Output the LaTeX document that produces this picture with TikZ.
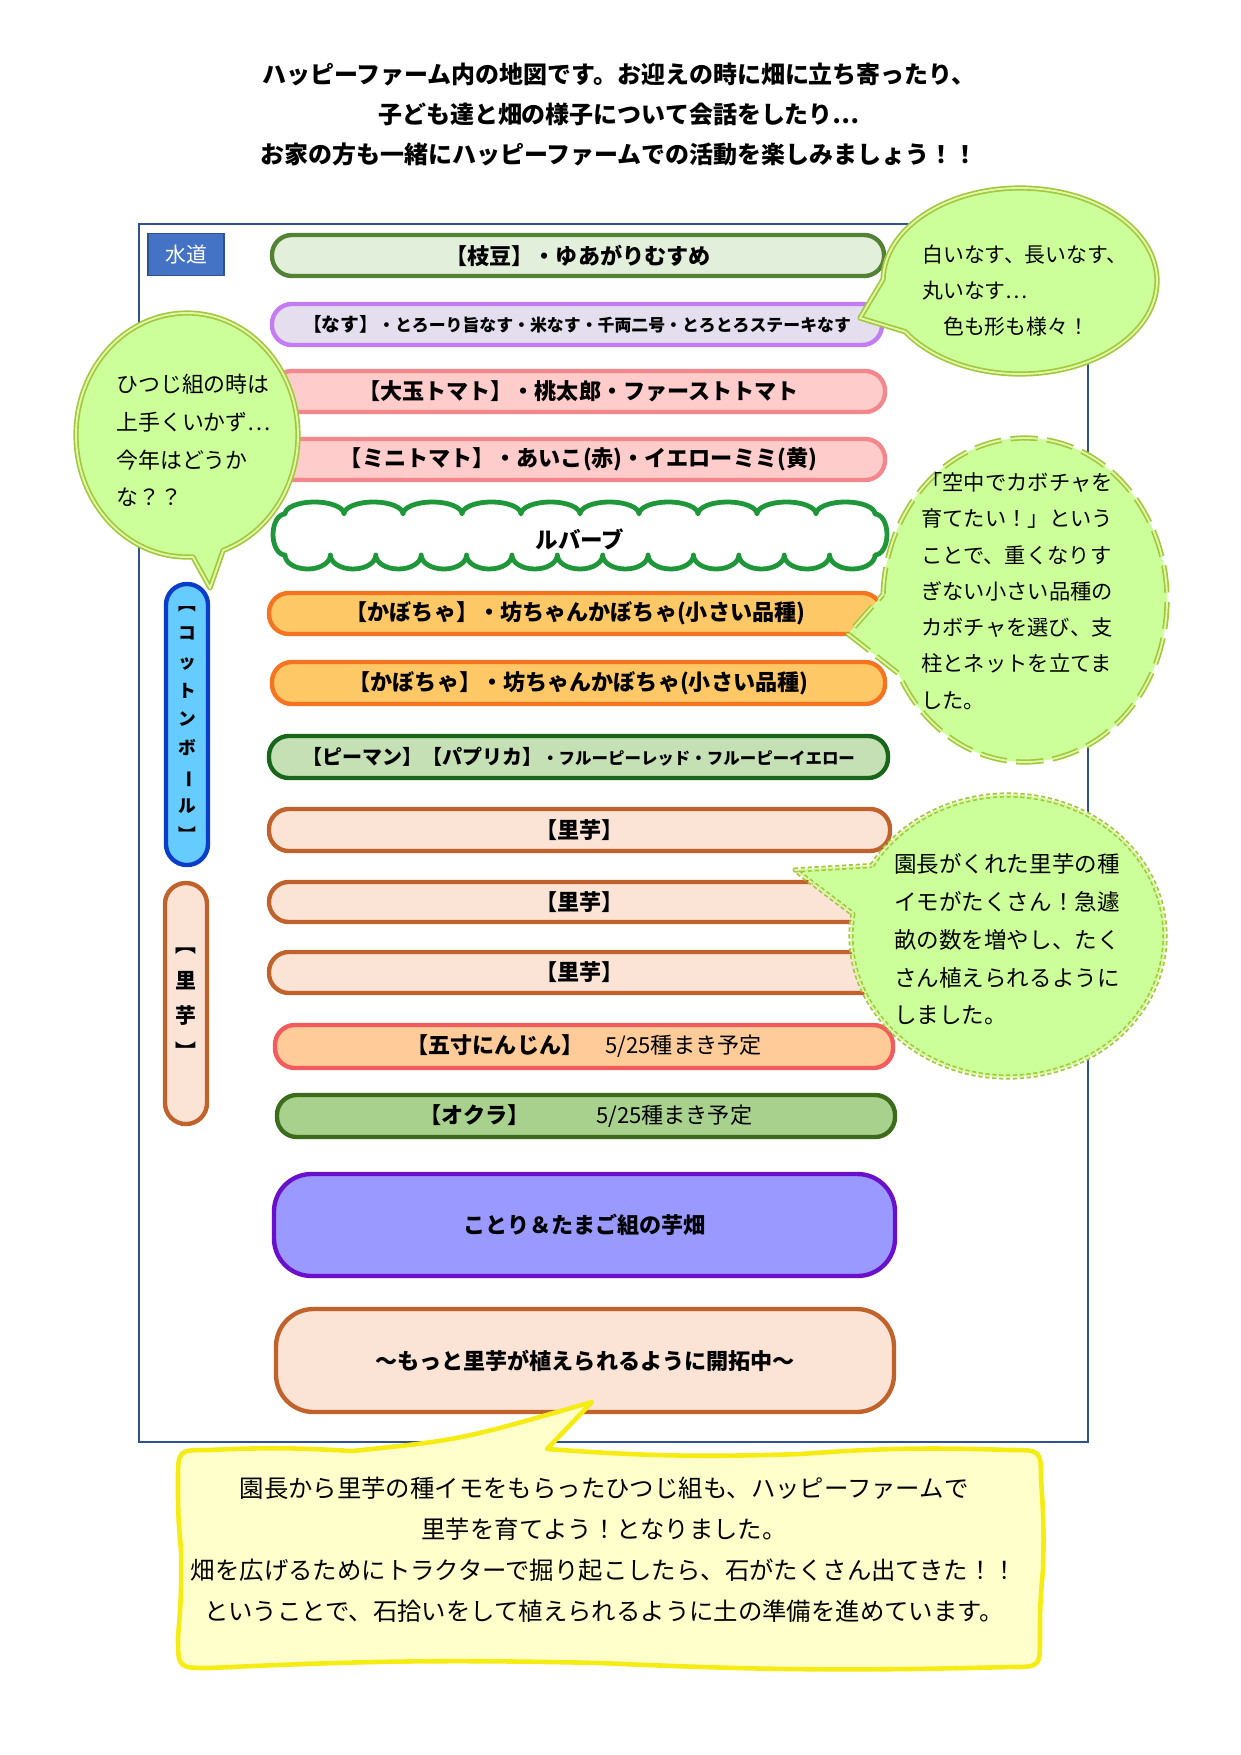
\documentclass[tikz,border=0pt]{standalone}
\usepackage{fontspec}
\setmainfont{Noto Sans CJK JP}
\usepackage{graphicx}
\definecolor{frameblue}{HTML}{2F528F}
\definecolor{suidofill}{HTML}{4472C4}
\definecolor{edaline}{HTML}{548235}\definecolor{edafill}{HTML}{E2EFDA}
\definecolor{nasuline}{HTML}{C47CF2}\definecolor{nasufill}{HTML}{E4DEEE}
\definecolor{tomline}{HTML}{F4878B}\definecolor{tomfill}{HTML}{FFCCCC}
\definecolor{kaboline}{HTML}{F57421}\definecolor{kabofill}{HTML}{FFC866}
\definecolor{pimline}{HTML}{17661A}\definecolor{pimfill}{HTML}{C5E0B4}
\definecolor{satoline}{HTML}{C0622B}\definecolor{satofill}{HTML}{FBE4D6}
\definecolor{ninline}{HTML}{F25C5C}\definecolor{ninfill}{HTML}{FFCC99}
\definecolor{okuline}{HTML}{3B6C1C}\definecolor{okufill}{HTML}{A9D18E}
\definecolor{kotline}{HTML}{6A10CC}\definecolor{kotfill}{HTML}{9999FF}
\definecolor{cotline}{HTML}{0B3DCB}\definecolor{cotfill}{HTML}{66CCFF}
\definecolor{cloudgreen}{HTML}{1F963A}
\definecolor{bubfill}{HTML}{CCFF99}\definecolor{bubline}{HTML}{9FC93C}\definecolor{bubinner}{HTML}{E4F5A8}
\definecolor{yelfill}{HTML}{FFFFCC}\definecolor{yelline}{HTML}{F5EC14}
\newcommand\farmrow[8]{%
  \node[rowbox, draw=#6, fill=#7, minimum width={(#4-#2-4)*0.4797pt}, minimum height={(#5-#3-4)*0.4797pt}] (#1) at ({(#2+#4)/2},{(#3+#5)/2}) {#8};}
\tikzset{
  rowbox/.style={rectangle, rounded corners=9.5pt, line width=2.1pt, inner sep=0pt, font=\bfseries\fontsize{10.6}{12}\selectfont},
  bigbox/.style={rowbox, rounded corners=18pt},
  pill/.style={rectangle, rounded corners=10pt, line width=2.1pt, inner sep=0pt},
  vtext/.style={align=center, inner sep=0pt},
  bubble/.style={fill=bubfill, draw=bubline, line width=0.8pt, double=bubinner, double distance=0.9pt, line join=round},
  dashbubble/.style={bubble, dash pattern=on 13pt off 4.5pt},
  dotbubble/.style={bubble, dash pattern=on 2pt off 1.3pt},
  saytext/.style={align=left, inner sep=0pt, anchor=west},
  cloudstroke/.style={draw=cloudgreen, fill=white, line width=2.3pt, line join=round},
  yelbubble/.style={fill=yelfill, draw=yelline, line width=2.2pt, line join=round}
}
\begin{document}
\begin{tikzpicture}[x=0.4797pt,y=-0.4797pt]
\useasboundingbox (0,0) rectangle (1241,1755);
\fill[white] (0,0) rectangle (1241,1755);

% title
\node[align=center, inner sep=0pt, font=\bfseries\fontsize{11.5}{19}\selectfont] (title) at (619,114.5)
 {ハッピーファーム内の地図です。お迎えの時に畑に立ち寄ったり、\\子ども達と畑の様子について会話をしたり…\\お家の方も一緒にハッピーファームでの活動を楽しみましょう！！};

% frame
\draw[frameblue, line width=0.8pt] (139,224) rectangle (1088,1442);

% water
\node[rectangle, draw=frameblue, fill=suidofill, line width=0.6pt, minimum width={76*0.4797pt}, minimum height={42*0.4797pt}, text=white, font=\fontsize{10}{12}\selectfont] (suido) at (186,254.5) {水道};

% rows
\farmrow{eda}{270}{233}{886}{278}{edaline}{edafill}{【枝豆】・ゆあがりむすめ}
\farmrow{nasu}{270}{302}{884}{347}{nasuline}{nasufill}{{\fontsize{9}{11}\selectfont【なす】}{\fontsize{8.1}{10}\selectfont・とろーり旨なす・米なす・千両二号・とろとろステーキなす}}
\farmrow{tomato}{270}{369}{887}{414}{tomline}{tomfill}{【大玉トマト】・桃太郎・ファーストトマト}
\farmrow{mini}{270}{437}{887}{482}{tomline}{tomfill}{【ミニトマト】・あいこ(赤)・イエローミミ(黄)}
\farmrow{kabo1}{267}{591}{884}{636}{kaboline}{kabofill}{【かぼちゃ】・坊ちゃんかぼちゃ(小さい品種)}
\farmrow{kabo2}{270}{660}{887}{706}{kaboline}{kabofill}{【かぼちゃ】・坊ちゃんかぼちゃ(小さい品種)}
\farmrow{piman}{267}{734}{890}{780}{pimline}{pimfill}{{\fontsize{9.6}{11}\selectfont【ピーマン】【パプリカ】}{\fontsize{7.9}{10}\selectfont・フルーピーレッド・フルーピーイエロー}}
\farmrow{sato1}{267}{807}{892}{853}{satoline}{satofill}{【里芋】}
\farmrow{sato2}{267}{880}{892}{924}{satoline}{satofill}{【里芋】}
\farmrow{sato3}{267}{950}{892}{995}{satoline}{satofill}{【里芋】}
\farmrow{ninjin}{273}{1023}{895}{1070}{ninline}{ninfill}{【五寸にんじん】\mdseries　5/25種まき予定}
\farmrow{okura}{275}{1093}{897}{1139}{okuline}{okufill}{【オクラ】\mdseries　　　5/25種まき予定}
\node[bigbox, draw=kotline, fill=kotfill, minimum width={621*0.4797pt}, minimum height={102*0.4797pt}] (kotori) at (584.5,1225) {ことり＆たまご組の芋畑};
\node[bigbox, draw=satoline, fill=satofill, minimum width={618*0.4797pt}, minimum height={103*0.4797pt}] (kaitaku) at (585,1360.5) {～もっと里芋が植えられるように開拓中～};

% rhubarb cloud
\draw[cloudstroke] (285,555) arc[start angle=90,end angle=270,x radius=12,y radius=20.5]
  \foreach \i in {1,...,10}{ arc[start angle=180,end angle=360,x radius=29.5,y radius=12] }
  arc[start angle=270,end angle=450,x radius=12,y radius=20.5]
  \foreach \i in {1,...,13}{ arc[start angle=0,end angle=180,x radius=22.692,y radius=14] } -- cycle;
\node[font=\bfseries\fontsize{10.8}{12}\selectfont, inner sep=0pt] (rhubarb) at (580,539) {ルバーブ};

% left pills
\node[pill, draw=cotline, fill=cotfill, minimum width={42*0.4797pt}, minimum height={281*0.4797pt}] (cotton) at (187,724.5) {};
\node[vtext, font=\bfseries\fontsize{8.5}{13.9}\selectfont] (cottontext) at (187,724) {︻\\コ\\ッ\\ト\\ン\\ボ\\\rotatebox[origin=c]{-90}{ー}\\ル\\︼};
\node[pill, draw=satoline, fill=satofill, minimum width={42*0.4797pt}, minimum height={241*0.4797pt}] (satopill) at (186,1003.5) {};
\node[vtext, font=\bfseries\fontsize{10}{17.1}\selectfont] (satopilltext) at (186,1003.5) {︻\\里\\芋\\︼};

% bubble: hitsuji
\draw[bubble] (187,435) ++(87:111 and 122) arc[start angle=87,end angle=431,x radius=111,y radius=122] -- (210,588) -- cycle;
\node[saytext, font=\fontsize{10.5}{18.1}\selectfont] (hitsuji) at (116,440.5) {ひつじ組の時は\\上手くいかず…\\今年はどうか\\な？？};

% bubble: nasu
\draw[bubble] (1020,281) ++(181:137 and 93) arc[start angle=181,end angle=507,x radius=137,y radius=93] -- (860,318) -- cycle;
\node[saytext, font=\fontsize{10}{17.3}\selectfont] (nasusay) at (922,291) {白いなす、長いなす、\\丸いなす…\\　色も形も様々！};

% bubble: kabocha (dashed)
\draw[dashbubble] (1025,600) ++(182:142 and 162) arc[start angle=182,end angle=513,x radius=142,y radius=162] -- (848,634) -- cycle;
\node[saytext, font=\fontsize{10.2}{17.4}\selectfont] (kabosay) at (921,591) {「空中でカボチャを\\育てたい！」という\\ことで、重くなりす\\ぎない小さい品種の\\カボチャを選び、支\\柱とネットを立てま\\した。};

% bubble: satoimo (dotted)
\draw[dotbubble] (1008,936) ++(210:157 and 141) arc[start angle=210,end angle=549,x radius=157,y radius=141] -- (795,870) -- cycle;
\node[saytext, font=\fontsize{10.8}{18.1}\selectfont] (satosay) at (894,939.5) {園長がくれた里芋の種\\イモがたくさん！急遽\\畝の数を増やし、たく\\さん植えられるように\\しました。};

% bottom yellow bubble (wavy edges)
\draw[yelbubble] (592,1402) -- (547,1449)
  to[bend right=3] (800,1454) to[bend left=3] (1010,1450)
  .. controls (1041,1450) .. (1041,1480)
  to[bend left=3] (1043,1570) to[bend right=3] (1040,1638)
  .. controls (1040,1667) .. (1010,1667)
  to[bend left=2] (600,1663) to[bend right=2] (210,1668)
  .. controls (178,1668) .. (178,1637)
  to[bend right=3] (181,1550) to[bend left=3] (178,1481)
  .. controls (178,1450) .. (208,1450)
  to[bend left=3] (352,1451) .. controls (460,1440) .. (592,1402) -- cycle;
\node[align=center, inner sep=0pt, font=\fontsize{11.7}{19.7}\selectfont] (bottomsay) at (604,1549.5)
 {園長から里芋の種イモをもらったひつじ組も、ハッピーファームで\\里芋を育てよう！となりました。\\畑を広げるためにトラクターで掘り起こしたら、石がたくさん出てきた！！\\ということで、石拾いをして植えられるように土の準備を進めています。};
\end{tikzpicture}
\end{document}
